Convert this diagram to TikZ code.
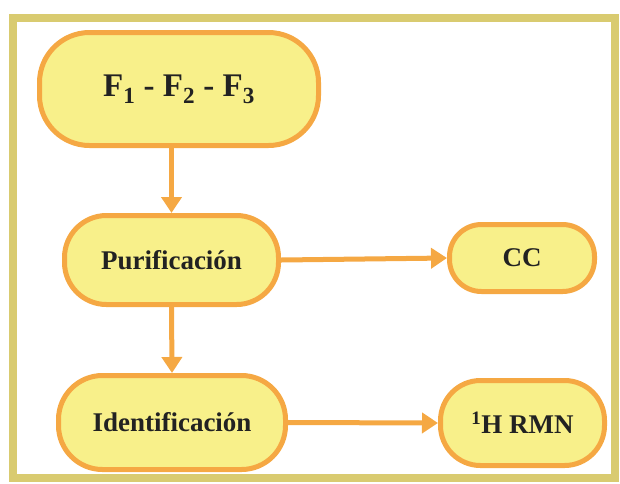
\documentclass[tikz,border=0pt]{standalone}
\usepackage{fontspec}
\setmainfont{Liberation Serif}[BoldFont={Liberation Serif Bold}]
\usetikzlibrary{arrows.meta}
\definecolor{frameC}{HTML}{D9CB70}
\definecolor{boxfill}{HTML}{F8F08A}
\definecolor{boxline}{HTML}{F5A843}
\definecolor{txt}{HTML}{222222}
\tikzset{
  box/.style={draw=boxline, fill=boxfill, line width=5pt, text=txt,
    font=\bfseries\fontsize{27}{30}\selectfont, inner sep=0pt},
  conn/.style={draw=boxline, line width=5pt,
    -{Triangle[length=16pt,width=20pt]}},
}
\begin{document}
\begin{tikzpicture}[x=1pt,y=-1pt]
\useasboundingbox (0,0) rectangle (620,483);
\draw[frameC, line width=8pt] (13,18) rectangle (615,478);
\node[box, minimum width=279pt, minimum height=113pt, rounded corners=50pt,
  font=\bfseries\fontsize{33}{36}\selectfont] (f) at (179,89)
  {F\textsubscript{1} - F\textsubscript{2} - F\textsubscript{3}};
\node[box, minimum width=214pt, minimum height=89pt, rounded corners=42pt] (p) at (171.5,260) {Purificación};
\node[box, minimum width=145pt, minimum height=67pt, rounded corners=32pt] (cc) at (522,258) {CC};
\node[box, minimum width=227pt, minimum height=94pt, rounded corners=44pt] (id) at (172,422.5) {Identificación};
\node[box, minimum width=164pt, minimum height=85pt, rounded corners=40pt] (rmn) at (522.5,423) {\textsuperscript{1}H RMN};
\draw[conn] (f.south -| p.north) -- (p.north);
\draw[conn] (p.south) -- (id.north);
\draw[conn] (p.east) -- (cc.west);
\draw[conn] (id.east) -- (rmn.west);
\end{tikzpicture}
\end{document}
